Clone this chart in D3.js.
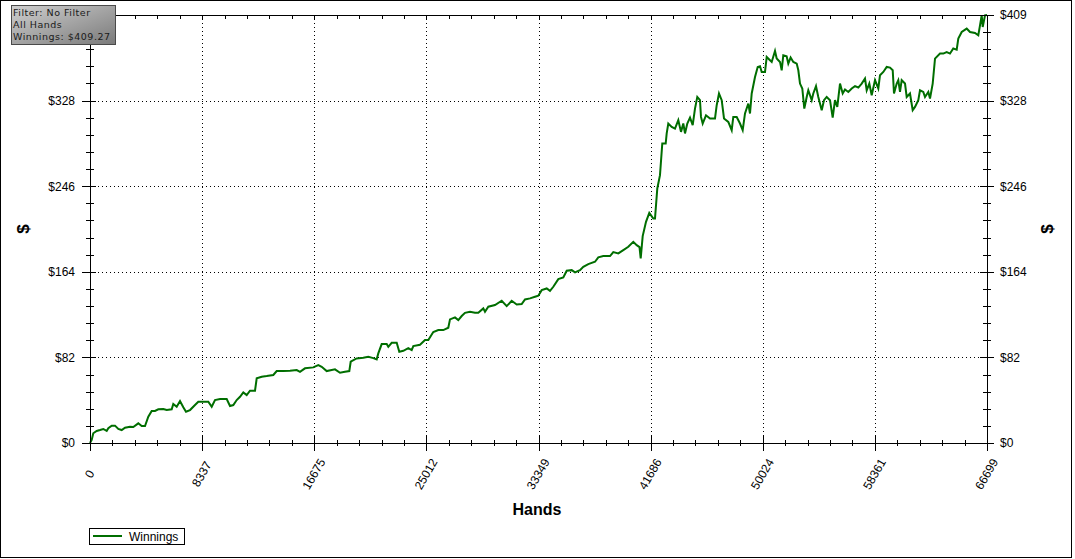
<!DOCTYPE html>
<html>
<head>
<meta charset="utf-8">
<script src="https://cdn.jsdelivr.net/npm/d3@7"></script>
<style>
  html, body { margin: 0; padding: 0; background: #ffffff; }
  svg { display: block; }
</style>
</head>
<body>
<svg id="chart" width="1075" height="559"></svg>
<script>
// ---------------- DATA ----------------
const seriesName = "Winnings";
const filterLines = ["Filter: No Filter", "All Hands", "Winnings: $409.27"];
const xTickLabels = ["0", "8337", "16675", "25012", "33349", "41686", "50024", "58361", "66699"];
const yTickLabels = ["$0", "$82", "$164", "$246", "$328", "$409"];
const handsMax = 66699;
const winningsMax = 409.27;

const hands = [
  0, 126, 245, 498, 744, 989, 1242, 1361, 1614, 1859, 2104, 2357, 2603, 2974, 3220, 3591, 3844, 4090,
  4335, 4588, 4833, 5079, 5450, 5703, 6075, 6194, 6447, 6692, 6938, 7138, 7436, 7808, 8053, 8425, 8797,
  9050, 9295, 9667, 10165, 10410, 10656, 10908, 11154, 11399, 11652, 11897, 12269, 12396, 12768, 13139,
  13630, 13883, 14373, 14872, 15370, 15615, 15987, 16604, 16976, 17229, 17600, 17972, 18218, 18590, 18961,
  19281, 19385, 19825, 20322, 20694, 21066, 21318, 21437, 21690, 22062, 22181, 22434, 22806, 22999, 23297,
  23668, 23921, 24040, 24538, 24910, 25155, 25527, 25899, 26271, 26642, 26769, 27141, 27386, 27639, 27884,
  28256, 28628, 28873, 29245, 29371, 29617, 30115, 30613, 30985, 31357, 31728, 32100, 32346, 32718, 33089,
  33335, 33588, 33960, 34205, 34451, 34823, 35194, 35447, 35819, 36064, 36435, 36681, 37053, 37551, 37796,
  38168, 38666, 38912, 39284, 39655, 40027, 40399, 40652, 40860, 40949, 41097, 41343, 41588, 41886, 42012,
  42183, 42383, 42554, 42807, 42882, 43001, 43254, 43499, 43745, 43945, 44116, 44243, 44414, 44615, 44815,
  44986, 45157, 45357, 45432, 45558, 45804, 46102, 46474, 46600, 46771, 46972, 47143, 47462, 47715, 47834,
  48087, 48333, 48533, 48705, 48950, 49076, 49203, 49448, 49649, 49820, 49946, 50192, 50318, 50563, 50690,
  50935, 51061, 51307, 51433, 51552, 51800, 51924, 52097, 52297, 52550, 52669, 52794, 52965, 53114, 53292,
  53411, 53664, 53783, 53984, 54155, 54408, 54579, 54779, 55025, 55225, 55397, 55567, 55769, 55969, 56140,
  56386, 56639, 56884, 57130, 57383, 57627, 57754, 57948, 58125, 58371, 58617, 58743, 58989, 59242, 59487,
  59688, 59784, 59985, 60103, 60230, 60356, 60602, 60728, 60973, 61174, 61345, 61590, 61717, 61962, 62089,
  62334, 62461, 62661, 62833, 63204, 63450, 63703, 63948, 64193, 64446, 64565, 64818, 65190, 65435, 65807,
  66052, 66179, 66305, 66379, 66551, 66699
];
const winnings = [
  0, 2.9, 9.3, 11.5, 12.4, 13.4, 11.5, 14.1, 16.6, 16.6, 13.4, 12.4, 14.6, 15.6, 15.3, 18.8, 16.2, 16.2,
  25.1, 30.6, 30.6, 32.2, 32.5, 31.5, 32.2, 37.3, 34.7, 40.1, 34.1, 29.9, 31.5, 36.3, 39.5, 39.5, 39.5,
  34.7, 41.1, 42.0, 42.0, 35.4, 36.3, 41.1, 44.2, 48.4, 45.9, 50.0, 50.0, 61.8, 63.4, 64.0,
  65.0, 68.8, 68.8, 69.1, 69.8, 68.1, 71.4, 72.3, 74.5, 72.9, 68.8, 69.8, 70.4, 67.2, 68.1,
  68.8, 77.7, 80.9, 81.5, 82.5, 81.2, 80.0, 85.7, 94.6, 94.6, 92.0, 95.8, 95.8, 87.2, 88.2,
  90.8, 88.9, 92.7, 93.9, 98.4, 98.4, 106.1, 108.0, 108.0, 110.2, 118.2, 120.1, 117.5, 121.4, 124.5,
  125.5, 124.5, 124.5, 128.7, 125.5, 130.3, 131.9, 136.0, 130.9, 136.0, 132.5, 132.8, 137.3, 138.3, 139.8,
  140.8, 146.2, 147.8, 145.5, 149.4, 156.7, 158.3, 164.7, 165.3, 163.1, 165.3, 168.5, 171.1, 173.3, 177.5,
  178.7, 178.7, 182.5, 181.3, 184.4, 187.6, 192.4, 189.2, 187.3, 176.5, 197.8, 211.5, 220.1, 214.7, 214.7,
  243.4, 256.1, 286.4, 286.4, 296.0, 305.5, 302.3, 300.7, 308.7, 297.5, 305.5, 296.0, 305.5, 311.2, 303.9,
  319.8, 330.9, 327.8, 311.8, 305.5, 313.4, 310.3, 310.3, 323.0, 334.2, 327.8, 310.3, 307.0, 299.1, 311.8,
  311.8, 305.5, 299.1, 315.1, 324.6, 315.1, 334.2, 350.0, 359.6, 360.3, 354.8, 354.8, 369.1, 366.0, 364.4,
  374.9, 367.6, 364.4, 356.4, 370.8, 369.8, 362.8, 368.6, 364.4, 362.8, 356.4, 343.7, 339.0, 319.8, 330.9,
  337.3, 327.8, 334.2, 341.2, 330.9, 318.2, 327.8, 330.9, 327.8, 311.2, 327.8, 321.4, 343.7, 334.2, 338.0,
  335.7, 339.0, 341.2, 339.9, 343.7, 348.5, 337.3, 343.7, 332.6, 346.9, 339.0, 351.7, 354.8, 359.6, 359.0,
  356.4, 334.2, 343.7, 346.9, 335.7, 346.9, 343.7, 330.9, 334.2, 318.2, 321.4, 327.8, 337.3, 335.7, 330.9,
  335.7, 329.4, 343.7, 367.6, 372.4, 372.4, 373.9, 372.4, 377.2, 376.2, 386.7, 393.0, 396.3, 393.0, 392.1,
  389.9, 399.4, 409.0, 397.8, 409.0, 409.27
];

// ---------------- CHART ----------------
const svg = d3.select("#chart");
const lineColor = "#006e00";
const fontAxis = "'Liberation Sans', Arial, sans-serif";

const x = d3.scaleLinear().domain([0, handsMax]).range([90, 987]);
const y = d3.scaleLinear().domain([0, winningsMax]).range([443, 15]);

const xMajor = d3.range(0, 9).map(i => handsMax * i / 8);
const xMinor = d3.range(0, 41).map(i => handsMax * i / 40);
const yMajor = d3.range(0, 6).map(i => winningsMax * i / 5);
const yMinor = d3.range(0, 26).map(i => winningsMax * i / 25);

// outer frame
svg.append("rect")
  .attr("x", 0.5).attr("y", 0.5).attr("width", 1071).attr("height", 557)
  .attr("fill", "#ffffff").attr("stroke", "#000").attr("stroke-width", 1);

// gridlines
const grid = svg.append("g").attr("shape-rendering", "crispEdges");
grid.selectAll("line.vg").data(xMajor.slice(1, -1)).join("line")
  .attr("x1", d => Math.round(x(d)) + 0.5).attr("x2", d => Math.round(x(d)) + 0.5)
  .attr("y1", y(winningsMax)).attr("y2", y(0))
  .attr("stroke", "#000").attr("stroke-width", 1).attr("stroke-dasharray", "1,3");
grid.selectAll("line.hg").data(yMajor.slice(1, -1)).join("line")
  .attr("y1", d => Math.round(y(d)) + 0.5).attr("y2", d => Math.round(y(d)) + 0.5)
  .attr("x1", x(0)).attr("x2", x(handsMax))
  .attr("stroke", "#000").attr("stroke-width", 1).attr("stroke-dasharray", "1,3");

// line
const lineGen = d3.line().x((d, i) => x(hands[i])).y(d => y(d));
svg.append("path")
  .datum(winnings)
  .attr("d", lineGen)
  .attr("fill", "none")
  .attr("stroke", lineColor)
  .attr("stroke-width", 2)
  .attr("stroke-linejoin", "miter");

// axes helper
function styleAxis(g) {
  g.attr("shape-rendering", "crispEdges");
  g.select(".domain").attr("stroke", "#000");
  g.selectAll(".tick line").attr("stroke", "#000");
  g.selectAll(".tick text").attr("font-family", fontAxis).attr("font-size", 12).attr("fill", "#000");
}

// bottom axis
const gBottomMinor = svg.append("g").attr("transform", "translate(0,443)")
  .call(d3.axisBottom(x).tickValues(xMinor).tickSize(3).tickSizeOuter(0).tickFormat(""));
gBottomMinor.selectAll(".tick line").attr("y1", -3);
gBottomMinor.selectAll(".tick text").remove();
styleAxis(gBottomMinor);
const gBottom = svg.append("g").attr("transform", "translate(0,443)")
  .call(d3.axisBottom(x).tickValues(xMajor).tickSize(8).tickSizeOuter(0)
    .tickFormat((d, i) => xTickLabels[i]));
gBottom.selectAll(".tick line").attr("y1", -8);
styleAxis(gBottom);
gBottom.selectAll(".tick text")
  .attr("x", 0).attr("y", 0).attr("dy", "0.35em")
  .attr("text-anchor", "middle")
  .attr("transform", "translate(-1,31) rotate(-60)");

// top axis (ticks only)
const gTop = svg.append("g").attr("transform", "translate(0,15)")
  .call(d3.axisBottom(x).tickValues(xMinor).tickSize(4).tickSizeOuter(0).tickFormat(""));
gTop.selectAll(".tick text").remove();
styleAxis(gTop);

// left axis (the top label is hidden behind the filter box in the original)
const gLeftMinor = svg.append("g").attr("transform", "translate(90,0)")
  .call(d3.axisLeft(y).tickValues(yMinor).tickSize(4).tickSizeOuter(0).tickFormat(""));
gLeftMinor.selectAll(".tick line").attr("x1", 4);
gLeftMinor.selectAll(".tick text").remove();
styleAxis(gLeftMinor);
const gLeft = svg.append("g").attr("transform", "translate(90,0)")
  .call(d3.axisLeft(y).tickValues(yMajor.slice(0, -1)).tickSize(8).tickPadding(7).tickSizeOuter(0)
    .tickFormat((d, i) => yTickLabels[i]));
gLeft.selectAll(".tick line").attr("x1", 6);
styleAxis(gLeft);

// right axis
const gRightMinor = svg.append("g").attr("transform", "translate(987,0)")
  .call(d3.axisRight(y).tickValues(yMinor).tickSize(4).tickSizeOuter(0).tickFormat(""));
gRightMinor.selectAll(".tick line").attr("x1", -4);
gRightMinor.selectAll(".tick text").remove();
styleAxis(gRightMinor);
const gRight = svg.append("g").attr("transform", "translate(987,0)")
  .call(d3.axisRight(y).tickValues(yMajor).tickSize(7).tickPadding(6).tickSizeOuter(0)
    .tickFormat((d, i) => yTickLabels[i]));
gRight.selectAll(".tick line").attr("x1", -7);
styleAxis(gRight);

// axis titles
svg.append("text")
  .attr("x", 537).attr("y", 515)
  .attr("text-anchor", "middle")
  .attr("font-family", fontAxis).attr("font-weight", "bold").attr("font-size", 16)
  .text("Hands");
svg.append("text")
  .attr("transform", "translate(29,229) rotate(-90)")
  .attr("text-anchor", "middle")
  .attr("font-family", fontAxis).attr("font-weight", "bold").attr("font-size", 17)
  .text("$");
svg.append("text")
  .attr("transform", "translate(1053,229) rotate(-90)")
  .attr("text-anchor", "middle")
  .attr("font-family", fontAxis).attr("font-weight", "bold").attr("font-size", 17)
  .text("$");

// legend
const legend = svg.append("g").attr("shape-rendering", "crispEdges");
legend.append("rect")
  .attr("x", 89.5).attr("y", 528.5).attr("width", 95).attr("height", 16)
  .attr("fill", "#fff").attr("stroke", "#000");
legend.append("line")
  .attr("x1", 93).attr("x2", 122).attr("y1", 536).attr("y2", 536)
  .attr("stroke", lineColor).attr("stroke-width", 2);
legend.append("text")
  .attr("x", 129).attr("y", 541)
  .attr("font-family", fontAxis).attr("font-size", 12)
  .text(seriesName);

// filter info box
const defs = svg.append("defs");
const grad = defs.append("linearGradient").attr("id", "boxGrad")
  .attr("x1", "0%").attr("y1", "0%").attr("x2", "100%").attr("y2", "100%");
grad.append("stop").attr("offset", "0%").attr("stop-color", "#cfcfcf");
grad.append("stop").attr("offset", "100%").attr("stop-color", "#7a7a7a");
svg.append("rect")
  .attr("x", 11.5).attr("y", 5.5).attr("width", 104).attr("height", 39)
  .attr("fill", "url(#boxGrad)").attr("stroke", "#4a4a4a").attr("stroke-width", 1)
  .attr("shape-rendering", "crispEdges");
svg.append("g").selectAll("text").data(filterLines).join("text")
  .attr("x", 13).attr("y", (d, i) => 15.5 + i * 12)
  .attr("font-family", "'DejaVu Sans', Verdana, sans-serif").attr("font-size", 9.5)
  .attr("letter-spacing", 0.5)
  .attr("fill", "#1a1a1a")
  .text(d => d);
</script>
</body>
</html>
